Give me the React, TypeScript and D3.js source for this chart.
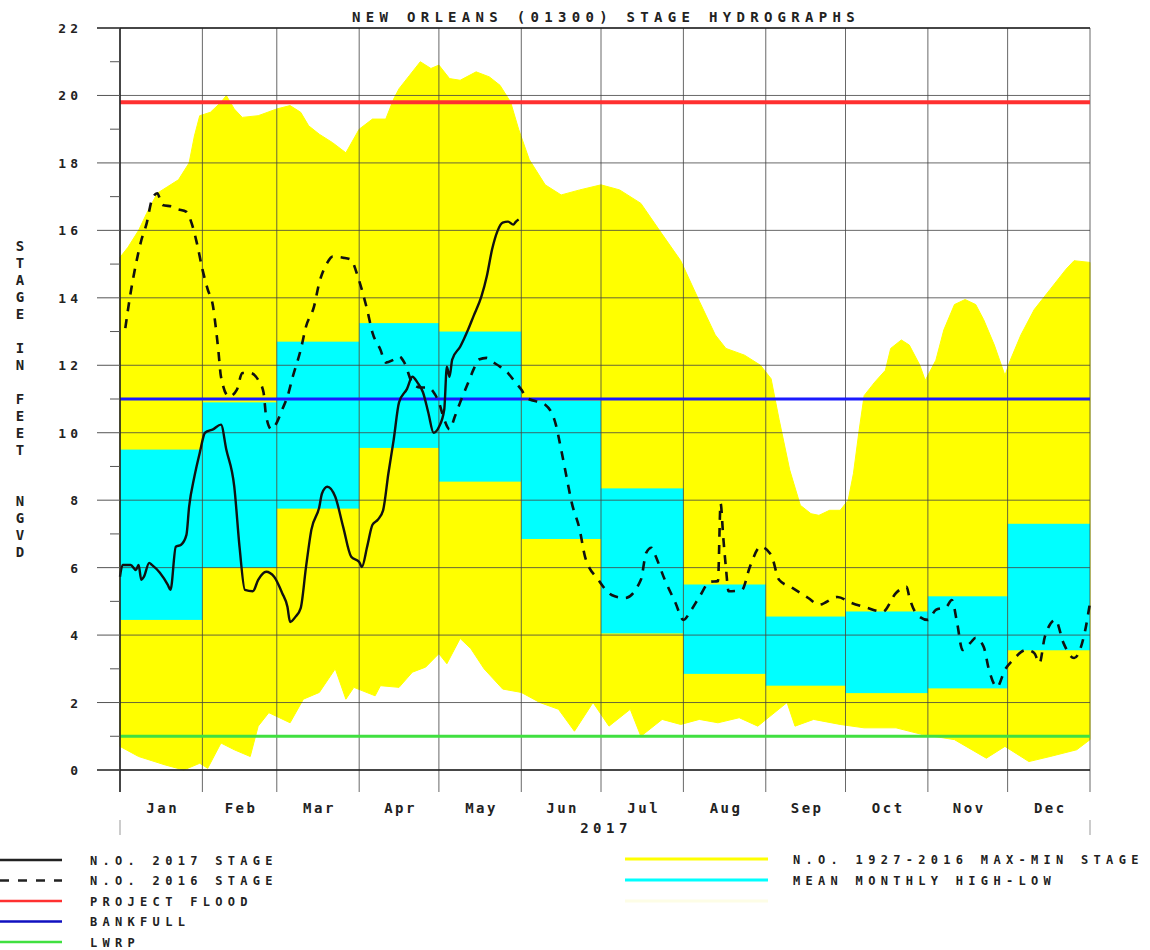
import React from "react";
import * as d3 from "d3";

// mean monthly high / low (cyan boxes)
const months = ["Jan", "Feb", "Mar", "Apr", "May", "Jun", "Jul", "Aug", "Sep", "Oct", "Nov", "Dec"];
const meanMonthlyHigh = [9.5, 10.9, 12.7, 13.25, 13.0, 10.95, 8.35, 5.5, 4.55, 4.7, 5.15, 7.3];
const meanMonthlyLow = [4.45, 6.0, 7.75, 9.55, 8.55, 6.85, 4.05, 2.85, 2.5, 2.28, 2.42, 3.55];

// 1927-2016 max stage envelope (day of year, feet)
const maxStageDays = [0, 3, 7, 10, 14, 18, 22, 26, 28, 30, 34, 38, 40, 43, 46, 52, 59, 64, 68, 71, 75, 80, 85, 90, 95, 100, 103, 105, 109, 113, 117, 120, 124, 128, 134, 139, 143, 147, 150, 154, 160, 166, 173, 181, 188, 196, 203, 211, 218, 224, 228, 235, 241, 245, 248, 252, 256, 260, 263, 267, 271, 274, 276, 278, 280, 284, 288, 290, 294, 297, 301, 303, 307, 310, 314, 318, 322, 325, 329, 333, 335, 339, 344, 350, 356, 359, 365];
const maxStageValues = [15.2, 15.5, 16.0, 16.5, 17.1, 17.3, 17.5, 18.0, 18.8, 19.4, 19.5, 19.8, 20.0, 19.6, 19.35, 19.4, 19.6, 19.7, 19.5, 19.1, 18.85, 18.6, 18.3, 19.0, 19.3, 19.3, 19.9, 20.2, 20.6, 21.0, 20.8, 20.9, 20.5, 20.45, 20.7, 20.55, 20.3, 19.8, 19.0, 18.1, 17.35, 17.05, 17.2, 17.35, 17.2, 16.8, 16.0, 15.1, 13.9, 12.9, 12.5, 12.3, 12.0, 11.6, 10.4, 8.9, 7.85, 7.6, 7.55, 7.7, 7.7, 8.0, 8.8, 10.0, 11.1, 11.5, 11.85, 12.5, 12.75, 12.6, 12.0, 11.55, 12.15, 13.05, 13.8, 13.95, 13.8, 13.35, 12.6, 11.7, 12.15, 12.9, 13.65, 14.25, 14.85, 15.1, 15.05];

// 1927-2016 min stage envelope
const minStageDays = [0, 7, 17, 24, 30, 33, 38, 43, 49, 52, 56, 60, 64, 69, 75, 81, 85, 88, 96, 98, 105, 110, 115, 120, 123, 128, 132, 137, 144, 151, 158, 165, 171, 178, 184, 192, 196, 204, 211, 218, 225, 233, 240, 251, 254, 261, 271, 280, 292, 302, 314, 326, 333, 342, 350, 360, 365];
const minStageValues = [0.7, 0.4, 0.15, 0.0, 0.2, 0.05, 0.8, 0.6, 0.4, 1.3, 1.7, 1.55, 1.4, 2.1, 2.3, 3.0, 2.1, 2.45, 2.2, 2.5, 2.45, 2.9, 3.05, 3.45, 3.15, 3.9, 3.6, 3.0, 2.4, 2.3, 2.0, 1.8, 1.15, 2.0, 1.3, 1.8, 1.0, 1.5, 1.35, 1.5, 1.4, 1.55, 1.3, 2.0, 1.3, 1.5, 1.35, 1.25, 1.25, 1.05, 0.9, 0.35, 0.7, 0.25, 0.4, 0.6, 0.9];

// N.O. 2017 stage
const stage2017Days = [0, 1, 4, 6, 7, 8, 9, 11, 12, 15, 18, 19, 21, 23, 25, 26, 28, 30, 32, 35, 38, 40, 43, 45, 47, 50, 52, 55, 58, 61, 63, 64, 66, 68, 70, 72, 75, 76, 78, 81, 84, 87, 90, 91, 93, 95, 97, 99, 101, 103, 105, 108, 110, 112, 114, 116, 118, 120, 122, 123, 124, 125, 128, 131, 133, 136, 138, 140, 142, 144, 146, 148, 149, 150];
const stage2017Values = [5.73, 6.08, 6.08, 5.93, 6.08, 5.64, 5.73, 6.14, 6.08, 5.85, 5.49, 5.34, 6.62, 6.68, 6.97, 7.8, 8.7, 9.4, 10.0, 10.1, 10.24, 9.5, 8.4, 6.6, 5.34, 5.3, 5.64, 5.88, 5.73, 5.25, 4.84, 4.39, 4.54, 4.8, 6.02, 7.12, 7.8, 8.2, 8.4, 8.1, 7.2, 6.32, 6.17, 6.02, 6.62, 7.27, 7.42, 7.7, 8.8, 9.8, 10.9, 11.3, 11.66, 11.48, 11.2, 10.6, 10.0, 10.17, 10.68, 11.96, 11.66, 12.17, 12.55, 13.06, 13.45, 14.04, 14.63, 15.43, 15.97, 16.23, 16.26, 16.17, 16.26, 16.32];

// N.O. 2016 stage
const stage2016Days = [2, 4, 6, 8, 10, 12, 14, 16, 20, 21, 25, 27, 29, 31, 33, 35, 36, 37, 38, 41, 44, 46, 49, 52, 54, 55, 57, 59, 61, 63, 65, 68, 70, 73, 75, 78, 80, 84, 87, 89, 91, 93, 95, 98, 100, 103, 105, 107, 110, 113, 116, 118, 120, 122, 124, 126, 128, 131, 133, 135, 138, 140, 143, 146, 148, 151, 153, 160, 164, 166, 168, 170, 173, 175, 180, 185, 190, 196, 198, 200, 201, 205, 209, 212, 215, 218, 222, 225, 226, 227, 228, 229, 234, 237, 241, 245, 248, 253, 259, 263, 270, 275, 281, 287, 292, 296, 297, 300, 304, 307, 311, 313, 315, 317, 320, 322, 325, 327, 330, 333, 336, 341, 344, 346, 348, 352, 355, 359, 363, 365];
const stage2016Values = [13.1, 14.15, 15.0, 15.7, 16.2, 16.9, 17.1, 16.75, 16.7, 16.65, 16.55, 16.2, 15.6, 14.85, 14.25, 13.75, 13.15, 12.45, 11.66, 11.07, 11.28, 11.77, 11.77, 11.57, 11.2, 10.48, 10.1, 10.3, 10.68, 11.07, 11.66, 12.46, 13.15, 13.74, 14.45, 15.04, 15.22, 15.19, 15.13, 14.75, 14.24, 13.65, 12.97, 12.46, 12.08, 12.17, 12.26, 12.08, 11.48, 11.34, 11.34, 11.2, 10.9, 10.39, 10.1, 10.48, 10.9, 11.48, 11.87, 12.17, 12.22, 12.11, 11.96, 11.77, 11.57, 11.28, 11.04, 10.83, 10.24, 9.5, 8.7, 7.92, 7.12, 6.32, 5.64, 5.19, 5.1, 5.64, 6.44, 6.59, 6.44, 5.64, 4.96, 4.45, 4.75, 5.13, 5.58, 5.6, 7.9, 6.9, 6.0, 5.3, 5.34, 6.02, 6.62, 6.38, 5.64, 5.4, 5.1, 4.9, 5.13, 4.96, 4.81, 4.69, 5.25, 5.43, 5.13, 4.6, 4.45, 4.75, 4.84, 5.04, 4.36, 3.56, 3.77, 3.92, 3.65, 2.97, 2.46, 2.97, 3.26, 3.56, 3.47, 3.17, 3.95, 4.45, 3.77, 3.32, 4.07, 4.96];

const projectFlood = 19.8;
const bankfull = 11.0;
const lwrp = 1.0;
const yTicks = d3.range(0, 23);
const yLabels = d3.range(0, 23, 2);

const W = 1150;
const H = 950;
const plot = { left: 120, right: 1090, top: 28, bottom: 770 };
const font = "'DejaVu Sans Mono', 'Liberation Mono', monospace";

const start = new Date(2017, 0, 1);
const end = new Date(2018, 0, 1);
const dayDate = (d: number) => new Date(2017, 0, 1 + d);

const x = d3.scaleTime().domain([start, end]).range([plot.left, plot.right]);
const y = d3.scaleLinear().domain([0, 22]).range([plot.bottom, plot.top]);

const monthStarts = d3.timeMonth.range(start, end);
const monthEdges = [...monthStarts, end];

const pts = (days: number[], vals: number[]) => days.map((d, i) => [x(dayDate(d)), y(vals[i])] as [number, number]);

const lineLinear = d3.line();
const lineSmooth = d3.line().curve(d3.curveMonotoneX);

const envelopePath =
  lineLinear([...pts(maxStageDays, maxStageValues), ...pts(minStageDays, minStageValues).reverse()]) + "Z";

const leftLegend = [
  { label: "N.O. 2017 STAGE", color: "#222", dash: "" },
  { label: "N.O. 2016 STAGE", color: "#222", dash: "9,9" },
  { label: "PROJECT FLOOD", color: "#ff3030", dash: "" },
  { label: "BANKFULL", color: "#1010c0", dash: "" },
  { label: "LWRP", color: "#40e040", dash: "" },
];
const rightLegend = [
  { label: "N.O. 1927-2016 MAX-MIN STAGE", color: "#ffff00" },
  { label: "MEAN MONTHLY HIGH-LOW", color: "#00ffff" },
  { label: "", color: "#fdfde6" },
];

const textStyle = { fontFamily: font, fontWeight: "bold" as const, fill: "#222" };

export default function App() {
  return (
    <svg
      width={W}
      height={H}
      viewBox={`0 0 ${W} ${H}`}
      style={{ position: "absolute", left: 0, top: 0, background: "#fff" }}
    >
      {/* max-min envelope */}
      <path d={envelopePath} fill="#ffff00" stroke="#ffff00" strokeWidth={1} />

      {/* mean monthly high-low */}
      {monthStarts.map((m, i) => (
        <rect
          key={i}
          x={x(m)}
          y={y(meanMonthlyHigh[i])}
          width={x(monthEdges[i + 1]) - x(m)}
          height={y(meanMonthlyLow[i]) - y(meanMonthlyHigh[i])}
          fill="#00ffff"
        />
      ))}

      {/* horizontal grid */}
      {yLabels.map((v) => (
        <line key={v} x1={plot.left} x2={plot.right} y1={y(v)} y2={y(v)} stroke="#444" strokeWidth={1} opacity={0.8} />
      ))}
      {/* vertical month grid */}
      {monthEdges.map((m, i) => (
        <line key={i} x1={x(m)} x2={x(m)} y1={plot.top} y2={plot.bottom + 22} stroke="#444" strokeWidth={1} opacity={0.8} />
      ))}
      <line x1={plot.left} x2={plot.left} y1={plot.bottom + 50} y2={plot.bottom + 65} stroke="#999" />
      <line x1={plot.right} x2={plot.right} y1={plot.bottom + 50} y2={plot.bottom + 65} stroke="#999" />

      {/* reference levels */}
      <line x1={plot.left} x2={plot.right} y1={y(projectFlood)} y2={y(projectFlood)} stroke="#ff3030" strokeWidth={4} />
      <line x1={plot.left} x2={plot.right} y1={y(bankfull)} y2={y(bankfull)} stroke="#1a1aff" strokeWidth={3} />
      <line x1={plot.left} x2={plot.right} y1={y(lwrp)} y2={y(lwrp)} stroke="#40e040" strokeWidth={3} />

      {/* stages */}
      <path
        d={lineSmooth(pts(stage2016Days, stage2016Values)) || ""}
        fill="none"
        stroke="#111"
        strokeWidth={2.6}
        strokeDasharray="9,8"
      />
      <path d={lineSmooth(pts(stage2017Days, stage2017Values)) || ""} fill="none" stroke="#111" strokeWidth={2.4} />

      {/* axes frame */}
      <line x1={plot.left} x2={plot.left} y1={plot.top} y2={plot.bottom + 22} stroke="#222" strokeWidth={1.5} />
      <line x1={plot.left - 23} x2={plot.right} y1={plot.top} y2={plot.top} stroke="#222" strokeWidth={1.5} />
      <line x1={plot.left - 23} x2={plot.right} y1={plot.bottom} y2={plot.bottom} stroke="#222" strokeWidth={1.5} />

      {/* y ticks */}
      {yTicks.map((v) => (
        <line
          key={v}
          x1={v % 2 === 0 ? plot.left - 23 : plot.left - 10}
          x2={plot.left}
          y1={y(v)}
          y2={y(v)}
          stroke="#555"
          strokeWidth={1}
        />
      ))}
      {yLabels.map((v) => (
        <text key={v} x={82} y={y(v) + 5} textAnchor="end" fontSize={13} letterSpacing={4} {...textStyle}>
          {v}
        </text>
      ))}

      {/* y title */}
      {"STAGE IN FEET  NGVD".split("").map((c, i) =>
        c === " " ? null : (
          <text key={i} x={20} y={251 + i * 17} textAnchor="middle" fontSize={14} {...textStyle}>
            {c}
          </text>
        )
      )}

      {/* month labels */}
      {monthStarts.map((m, i) => (
        <text
          key={i}
          x={(x(m) + x(monthEdges[i + 1])) / 2 + 1.5}
          y={813}
          textAnchor="middle"
          fontSize={14}
          letterSpacing={2.5}
          {...textStyle}
        >
          {months[i]}
        </text>
      ))}
      <text x={606} y={833} textAnchor="middle" fontSize={14} letterSpacing={4.5} {...textStyle}>
        2017
      </text>

      {/* title */}
      <text x={606} y={22} textAnchor="middle" fontSize={14} letterSpacing={5.3} {...textStyle}>
        NEW ORLEANS (01300) STAGE HYDROGRAPHS
      </text>

      {/* legend */}
      {leftLegend.map((e, i) => (
        <g key={i} transform={`translate(0, ${860 + i * 20.5})`}>
          <line x1={0} x2={62} y1={0} y2={0} stroke={e.color} strokeWidth={2.5} strokeDasharray={e.dash || undefined} />
          <text x={90} y={4.5} fontSize={12} letterSpacing={5.3} {...textStyle}>
            {e.label}
          </text>
        </g>
      ))}
      {rightLegend.map((e, i) => (
        <g key={i} transform={`translate(0, ${859 + i * 21})`}>
          <line x1={625} x2={768} y1={0} y2={0} stroke={e.color} strokeWidth={3} />
          <text x={793} y={4.5} fontSize={12} letterSpacing={5.3} {...textStyle}>
            {e.label}
          </text>
        </g>
      ))}
    </svg>
  );
}
